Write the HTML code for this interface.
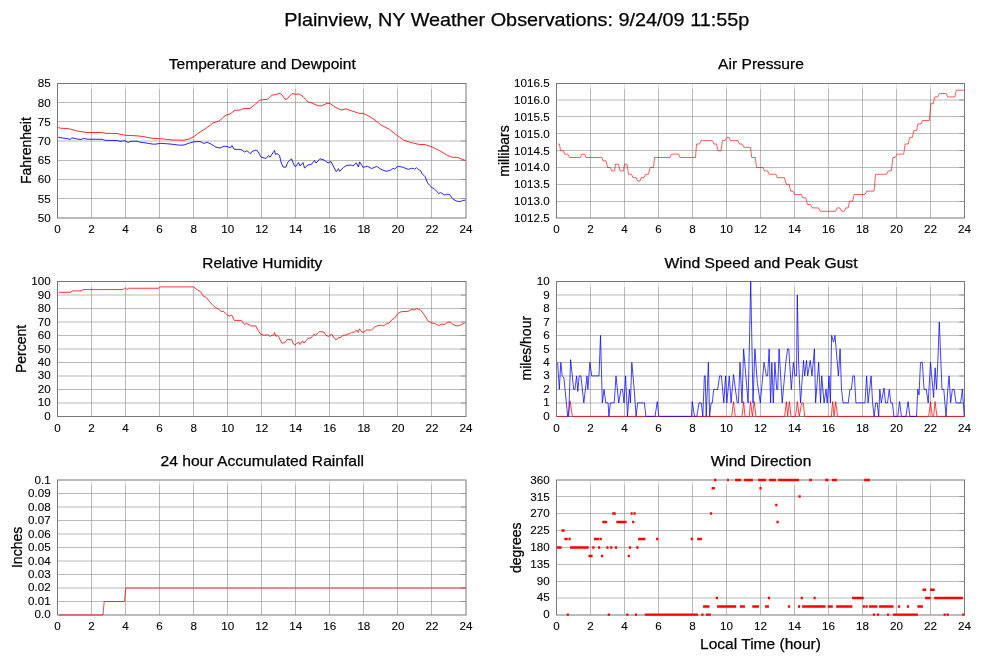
<!DOCTYPE html><html><head><meta charset="utf-8"><title>Plainview, NY Weather Observations</title>
<style>html,body{margin:0;padding:0;background:#fff;}svg{display:block;will-change:transform;}text{font-family:"Liberation Sans",Arial,Helvetica,sans-serif;fill:#000;stroke:#000;stroke-width:0.25px;}.tk{stroke-width:0.1px;}</style></head><body>
<svg width="999" height="659" viewBox="0 0 999 659">
<rect width="999" height="659" fill="#fff"/>
<text x="284.3" y="26" font-size="19" textLength="465" lengthAdjust="spacingAndGlyphs">Plainview, NY Weather Observations: 9/24/09 11:55p</text>
<path d="M91.5 88.5V218M125.5 88.5V218M159.5 88.5V218M193.5 88.5V218M227.5 88.5V218M261.5 88.5V218M295.5 88.5V218M329.5 88.5V218M363.5 88.5V218M397.5 88.5V218M431.5 88.5V218M57.5 102.5H466M57.5 121.5H466M57.5 141H466M57.5 160.5H466M57.5 179.5H466M57.5 198.5H466" stroke="#bababa" stroke-width="1" fill="none"/>
<path d="M91.5 83.5V88.5M125.5 83.5V88.5M159.5 83.5V88.5M193.5 83.5V88.5M227.5 83.5V88.5M261.5 83.5V88.5M295.5 83.5V88.5M329.5 83.5V88.5M363.5 83.5V88.5M397.5 83.5V88.5M431.5 83.5V88.5" stroke="#e4e4e4" stroke-width="1" fill="none"/>
<path d="M91 102h1v1h-1zM91 121h1v1h-1zM91 140.5h1v1h-1zM91 160h1v1h-1zM91 179h1v1h-1zM91 198h1v1h-1zM125 102h1v1h-1zM125 121h1v1h-1zM125 140.5h1v1h-1zM125 160h1v1h-1zM125 179h1v1h-1zM125 198h1v1h-1zM159 102h1v1h-1zM159 121h1v1h-1zM159 140.5h1v1h-1zM159 160h1v1h-1zM159 179h1v1h-1zM159 198h1v1h-1zM193 102h1v1h-1zM193 121h1v1h-1zM193 140.5h1v1h-1zM193 160h1v1h-1zM193 179h1v1h-1zM193 198h1v1h-1zM227 102h1v1h-1zM227 121h1v1h-1zM227 140.5h1v1h-1zM227 160h1v1h-1zM227 179h1v1h-1zM227 198h1v1h-1zM261 102h1v1h-1zM261 121h1v1h-1zM261 140.5h1v1h-1zM261 160h1v1h-1zM261 179h1v1h-1zM261 198h1v1h-1zM295 102h1v1h-1zM295 121h1v1h-1zM295 140.5h1v1h-1zM295 160h1v1h-1zM295 179h1v1h-1zM295 198h1v1h-1zM329 102h1v1h-1zM329 121h1v1h-1zM329 140.5h1v1h-1zM329 160h1v1h-1zM329 179h1v1h-1zM329 198h1v1h-1zM363 102h1v1h-1zM363 121h1v1h-1zM363 140.5h1v1h-1zM363 160h1v1h-1zM363 179h1v1h-1zM363 198h1v1h-1zM397 102h1v1h-1zM397 121h1v1h-1zM397 140.5h1v1h-1zM397 160h1v1h-1zM397 179h1v1h-1zM397 198h1v1h-1zM431 102h1v1h-1zM431 121h1v1h-1zM431 140.5h1v1h-1zM431 160h1v1h-1zM431 179h1v1h-1zM431 198h1v1h-1z" fill="#000" fill-opacity="0.14"/>
<rect x="57.5" y="83.5" width="408.5" height="134.5" stroke="#787878" stroke-width="1" fill="none"/>
<path d="M460.8 102.5H466M460.8 121.5H466M460.8 141H466M460.8 160.5H466M460.8 179.5H466M460.8 198.5H466" stroke="#969696" stroke-width="1" fill="none"/>
<text class="tk" x="50.8" y="87.3" font-size="11" text-anchor="end" textLength="12.97" lengthAdjust="spacingAndGlyphs">85</text>
<text class="tk" x="50.8" y="106.51" font-size="11" text-anchor="end" textLength="12.97" lengthAdjust="spacingAndGlyphs">80</text>
<text class="tk" x="50.8" y="125.73" font-size="11" text-anchor="end" textLength="12.97" lengthAdjust="spacingAndGlyphs">75</text>
<text class="tk" x="50.8" y="144.94" font-size="11" text-anchor="end" textLength="12.97" lengthAdjust="spacingAndGlyphs">70</text>
<text class="tk" x="50.8" y="164.16" font-size="11" text-anchor="end" textLength="12.97" lengthAdjust="spacingAndGlyphs">65</text>
<text class="tk" x="50.8" y="183.37" font-size="11" text-anchor="end" textLength="12.97" lengthAdjust="spacingAndGlyphs">60</text>
<text class="tk" x="50.8" y="202.59" font-size="11" text-anchor="end" textLength="12.97" lengthAdjust="spacingAndGlyphs">55</text>
<text class="tk" x="50.8" y="221.8" font-size="11" text-anchor="end" textLength="12.97" lengthAdjust="spacingAndGlyphs">50</text>
<text class="tk" x="57.5" y="233" font-size="11" text-anchor="middle" textLength="6.48" lengthAdjust="spacingAndGlyphs">0</text>
<text class="tk" x="91.54" y="233" font-size="11" text-anchor="middle" textLength="6.48" lengthAdjust="spacingAndGlyphs">2</text>
<text class="tk" x="125.58" y="233" font-size="11" text-anchor="middle" textLength="6.48" lengthAdjust="spacingAndGlyphs">4</text>
<text class="tk" x="159.62" y="233" font-size="11" text-anchor="middle" textLength="6.48" lengthAdjust="spacingAndGlyphs">6</text>
<text class="tk" x="193.67" y="233" font-size="11" text-anchor="middle" textLength="6.48" lengthAdjust="spacingAndGlyphs">8</text>
<text class="tk" x="227.71" y="233" font-size="11" text-anchor="middle" textLength="12.97" lengthAdjust="spacingAndGlyphs">10</text>
<text class="tk" x="261.75" y="233" font-size="11" text-anchor="middle" textLength="12.97" lengthAdjust="spacingAndGlyphs">12</text>
<text class="tk" x="295.79" y="233" font-size="11" text-anchor="middle" textLength="12.97" lengthAdjust="spacingAndGlyphs">14</text>
<text class="tk" x="329.83" y="233" font-size="11" text-anchor="middle" textLength="12.97" lengthAdjust="spacingAndGlyphs">16</text>
<text class="tk" x="363.88" y="233" font-size="11" text-anchor="middle" textLength="12.97" lengthAdjust="spacingAndGlyphs">18</text>
<text class="tk" x="397.92" y="233" font-size="11" text-anchor="middle" textLength="12.97" lengthAdjust="spacingAndGlyphs">20</text>
<text class="tk" x="431.96" y="233" font-size="11" text-anchor="middle" textLength="12.97" lengthAdjust="spacingAndGlyphs">22</text>
<text class="tk" x="466" y="233" font-size="11" text-anchor="middle" textLength="12.97" lengthAdjust="spacingAndGlyphs">24</text>
<text x="262.25" y="68.8" font-size="15" text-anchor="middle" textLength="187" lengthAdjust="spacingAndGlyphs">Temperature and Dewpoint</text>
<text transform="translate(31.2,150.6) rotate(-90)" x="0" y="0" font-size="14" text-anchor="middle">Fahrenheit</text>
<path d="M590.5 88.5V218M624.5 88.5V218M658.5 88.5V218M692.5 88.5V218M726.5 88.5V218M760.5 88.5V218M794.5 88.5V218M828.5 88.5V218M862.5 88.5V218M896.5 88.5V218M930.5 88.5V218M556.5 100H964.5M556.5 116.5H964.5M556.5 133.5H964.5M556.5 150.5H964.5M556.5 167.5H964.5M556.5 184.5H964.5M556.5 201.5H964.5" stroke="#bababa" stroke-width="1" fill="none"/>
<path d="M590.5 83.5V88.5M624.5 83.5V88.5M658.5 83.5V88.5M692.5 83.5V88.5M726.5 83.5V88.5M760.5 83.5V88.5M794.5 83.5V88.5M828.5 83.5V88.5M862.5 83.5V88.5M896.5 83.5V88.5M930.5 83.5V88.5" stroke="#e4e4e4" stroke-width="1" fill="none"/>
<path d="M590 99.5h1v1h-1zM590 116h1v1h-1zM590 133h1v1h-1zM590 150h1v1h-1zM590 167h1v1h-1zM590 184h1v1h-1zM590 201h1v1h-1zM624 99.5h1v1h-1zM624 116h1v1h-1zM624 133h1v1h-1zM624 150h1v1h-1zM624 167h1v1h-1zM624 184h1v1h-1zM624 201h1v1h-1zM658 99.5h1v1h-1zM658 116h1v1h-1zM658 133h1v1h-1zM658 150h1v1h-1zM658 167h1v1h-1zM658 184h1v1h-1zM658 201h1v1h-1zM692 99.5h1v1h-1zM692 116h1v1h-1zM692 133h1v1h-1zM692 150h1v1h-1zM692 167h1v1h-1zM692 184h1v1h-1zM692 201h1v1h-1zM726 99.5h1v1h-1zM726 116h1v1h-1zM726 133h1v1h-1zM726 150h1v1h-1zM726 167h1v1h-1zM726 184h1v1h-1zM726 201h1v1h-1zM760 99.5h1v1h-1zM760 116h1v1h-1zM760 133h1v1h-1zM760 150h1v1h-1zM760 167h1v1h-1zM760 184h1v1h-1zM760 201h1v1h-1zM794 99.5h1v1h-1zM794 116h1v1h-1zM794 133h1v1h-1zM794 150h1v1h-1zM794 167h1v1h-1zM794 184h1v1h-1zM794 201h1v1h-1zM828 99.5h1v1h-1zM828 116h1v1h-1zM828 133h1v1h-1zM828 150h1v1h-1zM828 167h1v1h-1zM828 184h1v1h-1zM828 201h1v1h-1zM862 99.5h1v1h-1zM862 116h1v1h-1zM862 133h1v1h-1zM862 150h1v1h-1zM862 167h1v1h-1zM862 184h1v1h-1zM862 201h1v1h-1zM896 99.5h1v1h-1zM896 116h1v1h-1zM896 133h1v1h-1zM896 150h1v1h-1zM896 167h1v1h-1zM896 184h1v1h-1zM896 201h1v1h-1zM930 99.5h1v1h-1zM930 116h1v1h-1zM930 133h1v1h-1zM930 150h1v1h-1zM930 167h1v1h-1zM930 184h1v1h-1zM930 201h1v1h-1z" fill="#000" fill-opacity="0.14"/>
<rect x="556.5" y="83.5" width="408" height="134.5" stroke="#787878" stroke-width="1" fill="none"/>
<path d="M959.3 100H964.5M959.3 116.5H964.5M959.3 133.5H964.5M959.3 150.5H964.5M959.3 167.5H964.5M959.3 184.5H964.5M959.3 201.5H964.5" stroke="#969696" stroke-width="1" fill="none"/>
<text class="tk" x="549.8" y="87.3" font-size="11" text-anchor="end" textLength="35.66" lengthAdjust="spacingAndGlyphs">1016.5</text>
<text class="tk" x="549.8" y="104.11" font-size="11" text-anchor="end" textLength="35.66" lengthAdjust="spacingAndGlyphs">1016.0</text>
<text class="tk" x="549.8" y="120.92" font-size="11" text-anchor="end" textLength="35.66" lengthAdjust="spacingAndGlyphs">1015.5</text>
<text class="tk" x="549.8" y="137.74" font-size="11" text-anchor="end" textLength="35.66" lengthAdjust="spacingAndGlyphs">1015.0</text>
<text class="tk" x="549.8" y="154.55" font-size="11" text-anchor="end" textLength="35.66" lengthAdjust="spacingAndGlyphs">1014.5</text>
<text class="tk" x="549.8" y="171.36" font-size="11" text-anchor="end" textLength="35.66" lengthAdjust="spacingAndGlyphs">1014.0</text>
<text class="tk" x="549.8" y="188.18" font-size="11" text-anchor="end" textLength="35.66" lengthAdjust="spacingAndGlyphs">1013.5</text>
<text class="tk" x="549.8" y="204.99" font-size="11" text-anchor="end" textLength="35.66" lengthAdjust="spacingAndGlyphs">1013.0</text>
<text class="tk" x="549.8" y="221.8" font-size="11" text-anchor="end" textLength="35.66" lengthAdjust="spacingAndGlyphs">1012.5</text>
<text class="tk" x="556.5" y="233" font-size="11" text-anchor="middle" textLength="6.48" lengthAdjust="spacingAndGlyphs">0</text>
<text class="tk" x="590.5" y="233" font-size="11" text-anchor="middle" textLength="6.48" lengthAdjust="spacingAndGlyphs">2</text>
<text class="tk" x="624.5" y="233" font-size="11" text-anchor="middle" textLength="6.48" lengthAdjust="spacingAndGlyphs">4</text>
<text class="tk" x="658.5" y="233" font-size="11" text-anchor="middle" textLength="6.48" lengthAdjust="spacingAndGlyphs">6</text>
<text class="tk" x="692.5" y="233" font-size="11" text-anchor="middle" textLength="6.48" lengthAdjust="spacingAndGlyphs">8</text>
<text class="tk" x="726.5" y="233" font-size="11" text-anchor="middle" textLength="12.97" lengthAdjust="spacingAndGlyphs">10</text>
<text class="tk" x="760.5" y="233" font-size="11" text-anchor="middle" textLength="12.97" lengthAdjust="spacingAndGlyphs">12</text>
<text class="tk" x="794.5" y="233" font-size="11" text-anchor="middle" textLength="12.97" lengthAdjust="spacingAndGlyphs">14</text>
<text class="tk" x="828.5" y="233" font-size="11" text-anchor="middle" textLength="12.97" lengthAdjust="spacingAndGlyphs">16</text>
<text class="tk" x="862.5" y="233" font-size="11" text-anchor="middle" textLength="12.97" lengthAdjust="spacingAndGlyphs">18</text>
<text class="tk" x="896.5" y="233" font-size="11" text-anchor="middle" textLength="12.97" lengthAdjust="spacingAndGlyphs">20</text>
<text class="tk" x="930.5" y="233" font-size="11" text-anchor="middle" textLength="12.97" lengthAdjust="spacingAndGlyphs">22</text>
<text class="tk" x="964.5" y="233" font-size="11" text-anchor="middle" textLength="12.97" lengthAdjust="spacingAndGlyphs">24</text>
<text x="761" y="68.8" font-size="15" text-anchor="middle" textLength="85.8" lengthAdjust="spacingAndGlyphs">Air Pressure</text>
<text transform="translate(509.4,151) rotate(-90)" x="0" y="0" font-size="14" text-anchor="middle">millibars</text>
<path d="M91.5 286.5V416.5M125.5 286.5V416.5M159.5 286.5V416.5M193.5 286.5V416.5M227.5 286.5V416.5M261.5 286.5V416.5M295.5 286.5V416.5M329.5 286.5V416.5M363.5 286.5V416.5M397.5 286.5V416.5M431.5 286.5V416.5M57.5 295H466M57.5 308.5H466M57.5 322H466M57.5 335.5H466M57.5 349H466M57.5 362.5H466M57.5 376H466M57.5 389.5H466M57.5 403H466" stroke="#bababa" stroke-width="1" fill="none"/>
<path d="M91.5 281.5V286.5M125.5 281.5V286.5M159.5 281.5V286.5M193.5 281.5V286.5M227.5 281.5V286.5M261.5 281.5V286.5M295.5 281.5V286.5M329.5 281.5V286.5M363.5 281.5V286.5M397.5 281.5V286.5M431.5 281.5V286.5" stroke="#e4e4e4" stroke-width="1" fill="none"/>
<path d="M91 294.5h1v1h-1zM91 308h1v1h-1zM91 321.5h1v1h-1zM91 335h1v1h-1zM91 348.5h1v1h-1zM91 362h1v1h-1zM91 375.5h1v1h-1zM91 389h1v1h-1zM91 402.5h1v1h-1zM125 294.5h1v1h-1zM125 308h1v1h-1zM125 321.5h1v1h-1zM125 335h1v1h-1zM125 348.5h1v1h-1zM125 362h1v1h-1zM125 375.5h1v1h-1zM125 389h1v1h-1zM125 402.5h1v1h-1zM159 294.5h1v1h-1zM159 308h1v1h-1zM159 321.5h1v1h-1zM159 335h1v1h-1zM159 348.5h1v1h-1zM159 362h1v1h-1zM159 375.5h1v1h-1zM159 389h1v1h-1zM159 402.5h1v1h-1zM193 294.5h1v1h-1zM193 308h1v1h-1zM193 321.5h1v1h-1zM193 335h1v1h-1zM193 348.5h1v1h-1zM193 362h1v1h-1zM193 375.5h1v1h-1zM193 389h1v1h-1zM193 402.5h1v1h-1zM227 294.5h1v1h-1zM227 308h1v1h-1zM227 321.5h1v1h-1zM227 335h1v1h-1zM227 348.5h1v1h-1zM227 362h1v1h-1zM227 375.5h1v1h-1zM227 389h1v1h-1zM227 402.5h1v1h-1zM261 294.5h1v1h-1zM261 308h1v1h-1zM261 321.5h1v1h-1zM261 335h1v1h-1zM261 348.5h1v1h-1zM261 362h1v1h-1zM261 375.5h1v1h-1zM261 389h1v1h-1zM261 402.5h1v1h-1zM295 294.5h1v1h-1zM295 308h1v1h-1zM295 321.5h1v1h-1zM295 335h1v1h-1zM295 348.5h1v1h-1zM295 362h1v1h-1zM295 375.5h1v1h-1zM295 389h1v1h-1zM295 402.5h1v1h-1zM329 294.5h1v1h-1zM329 308h1v1h-1zM329 321.5h1v1h-1zM329 335h1v1h-1zM329 348.5h1v1h-1zM329 362h1v1h-1zM329 375.5h1v1h-1zM329 389h1v1h-1zM329 402.5h1v1h-1zM363 294.5h1v1h-1zM363 308h1v1h-1zM363 321.5h1v1h-1zM363 335h1v1h-1zM363 348.5h1v1h-1zM363 362h1v1h-1zM363 375.5h1v1h-1zM363 389h1v1h-1zM363 402.5h1v1h-1zM397 294.5h1v1h-1zM397 308h1v1h-1zM397 321.5h1v1h-1zM397 335h1v1h-1zM397 348.5h1v1h-1zM397 362h1v1h-1zM397 375.5h1v1h-1zM397 389h1v1h-1zM397 402.5h1v1h-1zM431 294.5h1v1h-1zM431 308h1v1h-1zM431 321.5h1v1h-1zM431 335h1v1h-1zM431 348.5h1v1h-1zM431 362h1v1h-1zM431 375.5h1v1h-1zM431 389h1v1h-1zM431 402.5h1v1h-1z" fill="#000" fill-opacity="0.14"/>
<rect x="57.5" y="281.5" width="408.5" height="135" stroke="#787878" stroke-width="1" fill="none"/>
<path d="M460.8 295H466M460.8 308.5H466M460.8 322H466M460.8 335.5H466M460.8 349H466M460.8 362.5H466M460.8 376H466M460.8 389.5H466M460.8 403H466" stroke="#969696" stroke-width="1" fill="none"/>
<text class="tk" x="50.8" y="285.3" font-size="11" text-anchor="end" textLength="19.45" lengthAdjust="spacingAndGlyphs">100</text>
<text class="tk" x="50.8" y="298.75" font-size="11" text-anchor="end" textLength="12.97" lengthAdjust="spacingAndGlyphs">90</text>
<text class="tk" x="50.8" y="312.2" font-size="11" text-anchor="end" textLength="12.97" lengthAdjust="spacingAndGlyphs">80</text>
<text class="tk" x="50.8" y="325.65" font-size="11" text-anchor="end" textLength="12.97" lengthAdjust="spacingAndGlyphs">70</text>
<text class="tk" x="50.8" y="339.1" font-size="11" text-anchor="end" textLength="12.97" lengthAdjust="spacingAndGlyphs">60</text>
<text class="tk" x="50.8" y="352.55" font-size="11" text-anchor="end" textLength="12.97" lengthAdjust="spacingAndGlyphs">50</text>
<text class="tk" x="50.8" y="366" font-size="11" text-anchor="end" textLength="12.97" lengthAdjust="spacingAndGlyphs">40</text>
<text class="tk" x="50.8" y="379.45" font-size="11" text-anchor="end" textLength="12.97" lengthAdjust="spacingAndGlyphs">30</text>
<text class="tk" x="50.8" y="392.9" font-size="11" text-anchor="end" textLength="12.97" lengthAdjust="spacingAndGlyphs">20</text>
<text class="tk" x="50.8" y="406.35" font-size="11" text-anchor="end" textLength="12.97" lengthAdjust="spacingAndGlyphs">10</text>
<text class="tk" x="50.8" y="419.8" font-size="11" text-anchor="end" textLength="6.48" lengthAdjust="spacingAndGlyphs">0</text>
<text class="tk" x="57.5" y="431.5" font-size="11" text-anchor="middle" textLength="6.48" lengthAdjust="spacingAndGlyphs">0</text>
<text class="tk" x="91.54" y="431.5" font-size="11" text-anchor="middle" textLength="6.48" lengthAdjust="spacingAndGlyphs">2</text>
<text class="tk" x="125.58" y="431.5" font-size="11" text-anchor="middle" textLength="6.48" lengthAdjust="spacingAndGlyphs">4</text>
<text class="tk" x="159.62" y="431.5" font-size="11" text-anchor="middle" textLength="6.48" lengthAdjust="spacingAndGlyphs">6</text>
<text class="tk" x="193.67" y="431.5" font-size="11" text-anchor="middle" textLength="6.48" lengthAdjust="spacingAndGlyphs">8</text>
<text class="tk" x="227.71" y="431.5" font-size="11" text-anchor="middle" textLength="12.97" lengthAdjust="spacingAndGlyphs">10</text>
<text class="tk" x="261.75" y="431.5" font-size="11" text-anchor="middle" textLength="12.97" lengthAdjust="spacingAndGlyphs">12</text>
<text class="tk" x="295.79" y="431.5" font-size="11" text-anchor="middle" textLength="12.97" lengthAdjust="spacingAndGlyphs">14</text>
<text class="tk" x="329.83" y="431.5" font-size="11" text-anchor="middle" textLength="12.97" lengthAdjust="spacingAndGlyphs">16</text>
<text class="tk" x="363.88" y="431.5" font-size="11" text-anchor="middle" textLength="12.97" lengthAdjust="spacingAndGlyphs">18</text>
<text class="tk" x="397.92" y="431.5" font-size="11" text-anchor="middle" textLength="12.97" lengthAdjust="spacingAndGlyphs">20</text>
<text class="tk" x="431.96" y="431.5" font-size="11" text-anchor="middle" textLength="12.97" lengthAdjust="spacingAndGlyphs">22</text>
<text class="tk" x="466" y="431.5" font-size="11" text-anchor="middle" textLength="12.97" lengthAdjust="spacingAndGlyphs">24</text>
<text x="262.25" y="267.9" font-size="15" text-anchor="middle" textLength="120" lengthAdjust="spacingAndGlyphs">Relative Humidity</text>
<text transform="translate(26.4,348.9) rotate(-90)" x="0" y="0" font-size="14" text-anchor="middle">Percent</text>
<path d="M590.5 286.5V416.5M624.5 286.5V416.5M658.5 286.5V416.5M692.5 286.5V416.5M726.5 286.5V416.5M760.5 286.5V416.5M794.5 286.5V416.5M828.5 286.5V416.5M862.5 286.5V416.5M896.5 286.5V416.5M930.5 286.5V416.5M556.5 295H964.5M556.5 308.5H964.5M556.5 322H964.5M556.5 335.5H964.5M556.5 349H964.5M556.5 362.5H964.5M556.5 376H964.5M556.5 389.5H964.5M556.5 403H964.5" stroke="#bababa" stroke-width="1" fill="none"/>
<path d="M590.5 281.5V286.5M624.5 281.5V286.5M658.5 281.5V286.5M692.5 281.5V286.5M726.5 281.5V286.5M760.5 281.5V286.5M794.5 281.5V286.5M828.5 281.5V286.5M862.5 281.5V286.5M896.5 281.5V286.5M930.5 281.5V286.5" stroke="#e4e4e4" stroke-width="1" fill="none"/>
<path d="M590 294.5h1v1h-1zM590 308h1v1h-1zM590 321.5h1v1h-1zM590 335h1v1h-1zM590 348.5h1v1h-1zM590 362h1v1h-1zM590 375.5h1v1h-1zM590 389h1v1h-1zM590 402.5h1v1h-1zM624 294.5h1v1h-1zM624 308h1v1h-1zM624 321.5h1v1h-1zM624 335h1v1h-1zM624 348.5h1v1h-1zM624 362h1v1h-1zM624 375.5h1v1h-1zM624 389h1v1h-1zM624 402.5h1v1h-1zM658 294.5h1v1h-1zM658 308h1v1h-1zM658 321.5h1v1h-1zM658 335h1v1h-1zM658 348.5h1v1h-1zM658 362h1v1h-1zM658 375.5h1v1h-1zM658 389h1v1h-1zM658 402.5h1v1h-1zM692 294.5h1v1h-1zM692 308h1v1h-1zM692 321.5h1v1h-1zM692 335h1v1h-1zM692 348.5h1v1h-1zM692 362h1v1h-1zM692 375.5h1v1h-1zM692 389h1v1h-1zM692 402.5h1v1h-1zM726 294.5h1v1h-1zM726 308h1v1h-1zM726 321.5h1v1h-1zM726 335h1v1h-1zM726 348.5h1v1h-1zM726 362h1v1h-1zM726 375.5h1v1h-1zM726 389h1v1h-1zM726 402.5h1v1h-1zM760 294.5h1v1h-1zM760 308h1v1h-1zM760 321.5h1v1h-1zM760 335h1v1h-1zM760 348.5h1v1h-1zM760 362h1v1h-1zM760 375.5h1v1h-1zM760 389h1v1h-1zM760 402.5h1v1h-1zM794 294.5h1v1h-1zM794 308h1v1h-1zM794 321.5h1v1h-1zM794 335h1v1h-1zM794 348.5h1v1h-1zM794 362h1v1h-1zM794 375.5h1v1h-1zM794 389h1v1h-1zM794 402.5h1v1h-1zM828 294.5h1v1h-1zM828 308h1v1h-1zM828 321.5h1v1h-1zM828 335h1v1h-1zM828 348.5h1v1h-1zM828 362h1v1h-1zM828 375.5h1v1h-1zM828 389h1v1h-1zM828 402.5h1v1h-1zM862 294.5h1v1h-1zM862 308h1v1h-1zM862 321.5h1v1h-1zM862 335h1v1h-1zM862 348.5h1v1h-1zM862 362h1v1h-1zM862 375.5h1v1h-1zM862 389h1v1h-1zM862 402.5h1v1h-1zM896 294.5h1v1h-1zM896 308h1v1h-1zM896 321.5h1v1h-1zM896 335h1v1h-1zM896 348.5h1v1h-1zM896 362h1v1h-1zM896 375.5h1v1h-1zM896 389h1v1h-1zM896 402.5h1v1h-1zM930 294.5h1v1h-1zM930 308h1v1h-1zM930 321.5h1v1h-1zM930 335h1v1h-1zM930 348.5h1v1h-1zM930 362h1v1h-1zM930 375.5h1v1h-1zM930 389h1v1h-1zM930 402.5h1v1h-1z" fill="#000" fill-opacity="0.14"/>
<rect x="556.5" y="281.5" width="408" height="135" stroke="#787878" stroke-width="1" fill="none"/>
<path d="M959.3 295H964.5M959.3 308.5H964.5M959.3 322H964.5M959.3 335.5H964.5M959.3 349H964.5M959.3 362.5H964.5M959.3 376H964.5M959.3 389.5H964.5M959.3 403H964.5" stroke="#969696" stroke-width="1" fill="none"/>
<text class="tk" x="549.8" y="285.3" font-size="11" text-anchor="end" textLength="12.97" lengthAdjust="spacingAndGlyphs">10</text>
<text class="tk" x="549.8" y="298.75" font-size="11" text-anchor="end" textLength="6.48" lengthAdjust="spacingAndGlyphs">9</text>
<text class="tk" x="549.8" y="312.2" font-size="11" text-anchor="end" textLength="6.48" lengthAdjust="spacingAndGlyphs">8</text>
<text class="tk" x="549.8" y="325.65" font-size="11" text-anchor="end" textLength="6.48" lengthAdjust="spacingAndGlyphs">7</text>
<text class="tk" x="549.8" y="339.1" font-size="11" text-anchor="end" textLength="6.48" lengthAdjust="spacingAndGlyphs">6</text>
<text class="tk" x="549.8" y="352.55" font-size="11" text-anchor="end" textLength="6.48" lengthAdjust="spacingAndGlyphs">5</text>
<text class="tk" x="549.8" y="366" font-size="11" text-anchor="end" textLength="6.48" lengthAdjust="spacingAndGlyphs">4</text>
<text class="tk" x="549.8" y="379.45" font-size="11" text-anchor="end" textLength="6.48" lengthAdjust="spacingAndGlyphs">3</text>
<text class="tk" x="549.8" y="392.9" font-size="11" text-anchor="end" textLength="6.48" lengthAdjust="spacingAndGlyphs">2</text>
<text class="tk" x="549.8" y="406.35" font-size="11" text-anchor="end" textLength="6.48" lengthAdjust="spacingAndGlyphs">1</text>
<text class="tk" x="549.8" y="419.8" font-size="11" text-anchor="end" textLength="6.48" lengthAdjust="spacingAndGlyphs">0</text>
<text class="tk" x="556.5" y="431.5" font-size="11" text-anchor="middle" textLength="6.48" lengthAdjust="spacingAndGlyphs">0</text>
<text class="tk" x="590.5" y="431.5" font-size="11" text-anchor="middle" textLength="6.48" lengthAdjust="spacingAndGlyphs">2</text>
<text class="tk" x="624.5" y="431.5" font-size="11" text-anchor="middle" textLength="6.48" lengthAdjust="spacingAndGlyphs">4</text>
<text class="tk" x="658.5" y="431.5" font-size="11" text-anchor="middle" textLength="6.48" lengthAdjust="spacingAndGlyphs">6</text>
<text class="tk" x="692.5" y="431.5" font-size="11" text-anchor="middle" textLength="6.48" lengthAdjust="spacingAndGlyphs">8</text>
<text class="tk" x="726.5" y="431.5" font-size="11" text-anchor="middle" textLength="12.97" lengthAdjust="spacingAndGlyphs">10</text>
<text class="tk" x="760.5" y="431.5" font-size="11" text-anchor="middle" textLength="12.97" lengthAdjust="spacingAndGlyphs">12</text>
<text class="tk" x="794.5" y="431.5" font-size="11" text-anchor="middle" textLength="12.97" lengthAdjust="spacingAndGlyphs">14</text>
<text class="tk" x="828.5" y="431.5" font-size="11" text-anchor="middle" textLength="12.97" lengthAdjust="spacingAndGlyphs">16</text>
<text class="tk" x="862.5" y="431.5" font-size="11" text-anchor="middle" textLength="12.97" lengthAdjust="spacingAndGlyphs">18</text>
<text class="tk" x="896.5" y="431.5" font-size="11" text-anchor="middle" textLength="12.97" lengthAdjust="spacingAndGlyphs">20</text>
<text class="tk" x="930.5" y="431.5" font-size="11" text-anchor="middle" textLength="12.97" lengthAdjust="spacingAndGlyphs">22</text>
<text class="tk" x="964.5" y="431.5" font-size="11" text-anchor="middle" textLength="12.97" lengthAdjust="spacingAndGlyphs">24</text>
<text x="761" y="267.9" font-size="15" text-anchor="middle" textLength="193" lengthAdjust="spacingAndGlyphs">Wind Speed and Peak Gust</text>
<text transform="translate(531.2,348.2) rotate(-90)" x="0" y="0" font-size="14" text-anchor="middle">miles/hour</text>
<path d="M91.5 485V615M125.5 485V615M159.5 485V615M193.5 485V615M227.5 485V615M261.5 485V615M295.5 485V615M329.5 485V615M363.5 485V615M397.5 485V615M431.5 485V615M57.5 493.5H466M57.5 507H466M57.5 520.5H466M57.5 534H466M57.5 547.5H466M57.5 561H466M57.5 574.5H466M57.5 588H466M57.5 601.5H466" stroke="#bababa" stroke-width="1" fill="none"/>
<path d="M91.5 480V485M125.5 480V485M159.5 480V485M193.5 480V485M227.5 480V485M261.5 480V485M295.5 480V485M329.5 480V485M363.5 480V485M397.5 480V485M431.5 480V485" stroke="#e4e4e4" stroke-width="1" fill="none"/>
<path d="M91 493h1v1h-1zM91 506.5h1v1h-1zM91 520h1v1h-1zM91 533.5h1v1h-1zM91 547h1v1h-1zM91 560.5h1v1h-1zM91 574h1v1h-1zM91 587.5h1v1h-1zM91 601h1v1h-1zM125 493h1v1h-1zM125 506.5h1v1h-1zM125 520h1v1h-1zM125 533.5h1v1h-1zM125 547h1v1h-1zM125 560.5h1v1h-1zM125 574h1v1h-1zM125 587.5h1v1h-1zM125 601h1v1h-1zM159 493h1v1h-1zM159 506.5h1v1h-1zM159 520h1v1h-1zM159 533.5h1v1h-1zM159 547h1v1h-1zM159 560.5h1v1h-1zM159 574h1v1h-1zM159 587.5h1v1h-1zM159 601h1v1h-1zM193 493h1v1h-1zM193 506.5h1v1h-1zM193 520h1v1h-1zM193 533.5h1v1h-1zM193 547h1v1h-1zM193 560.5h1v1h-1zM193 574h1v1h-1zM193 587.5h1v1h-1zM193 601h1v1h-1zM227 493h1v1h-1zM227 506.5h1v1h-1zM227 520h1v1h-1zM227 533.5h1v1h-1zM227 547h1v1h-1zM227 560.5h1v1h-1zM227 574h1v1h-1zM227 587.5h1v1h-1zM227 601h1v1h-1zM261 493h1v1h-1zM261 506.5h1v1h-1zM261 520h1v1h-1zM261 533.5h1v1h-1zM261 547h1v1h-1zM261 560.5h1v1h-1zM261 574h1v1h-1zM261 587.5h1v1h-1zM261 601h1v1h-1zM295 493h1v1h-1zM295 506.5h1v1h-1zM295 520h1v1h-1zM295 533.5h1v1h-1zM295 547h1v1h-1zM295 560.5h1v1h-1zM295 574h1v1h-1zM295 587.5h1v1h-1zM295 601h1v1h-1zM329 493h1v1h-1zM329 506.5h1v1h-1zM329 520h1v1h-1zM329 533.5h1v1h-1zM329 547h1v1h-1zM329 560.5h1v1h-1zM329 574h1v1h-1zM329 587.5h1v1h-1zM329 601h1v1h-1zM363 493h1v1h-1zM363 506.5h1v1h-1zM363 520h1v1h-1zM363 533.5h1v1h-1zM363 547h1v1h-1zM363 560.5h1v1h-1zM363 574h1v1h-1zM363 587.5h1v1h-1zM363 601h1v1h-1zM397 493h1v1h-1zM397 506.5h1v1h-1zM397 520h1v1h-1zM397 533.5h1v1h-1zM397 547h1v1h-1zM397 560.5h1v1h-1zM397 574h1v1h-1zM397 587.5h1v1h-1zM397 601h1v1h-1zM431 493h1v1h-1zM431 506.5h1v1h-1zM431 520h1v1h-1zM431 533.5h1v1h-1zM431 547h1v1h-1zM431 560.5h1v1h-1zM431 574h1v1h-1zM431 587.5h1v1h-1zM431 601h1v1h-1z" fill="#000" fill-opacity="0.14"/>
<rect x="57.5" y="480" width="408.5" height="135" stroke="#787878" stroke-width="1" fill="none"/>
<path d="M460.8 493.5H466M460.8 507H466M460.8 520.5H466M460.8 534H466M460.8 547.5H466M460.8 561H466M460.8 574.5H466M460.8 588H466M460.8 601.5H466" stroke="#969696" stroke-width="1" fill="none"/>
<text class="tk" x="50.8" y="483.8" font-size="11" text-anchor="end" textLength="16.21" lengthAdjust="spacingAndGlyphs">0.1</text>
<text class="tk" x="50.8" y="497.25" font-size="11" text-anchor="end" textLength="22.69" lengthAdjust="spacingAndGlyphs">0.09</text>
<text class="tk" x="50.8" y="510.7" font-size="11" text-anchor="end" textLength="22.69" lengthAdjust="spacingAndGlyphs">0.08</text>
<text class="tk" x="50.8" y="524.15" font-size="11" text-anchor="end" textLength="22.69" lengthAdjust="spacingAndGlyphs">0.07</text>
<text class="tk" x="50.8" y="537.6" font-size="11" text-anchor="end" textLength="22.69" lengthAdjust="spacingAndGlyphs">0.06</text>
<text class="tk" x="50.8" y="551.05" font-size="11" text-anchor="end" textLength="22.69" lengthAdjust="spacingAndGlyphs">0.05</text>
<text class="tk" x="50.8" y="564.5" font-size="11" text-anchor="end" textLength="22.69" lengthAdjust="spacingAndGlyphs">0.04</text>
<text class="tk" x="50.8" y="577.95" font-size="11" text-anchor="end" textLength="22.69" lengthAdjust="spacingAndGlyphs">0.03</text>
<text class="tk" x="50.8" y="591.4" font-size="11" text-anchor="end" textLength="22.69" lengthAdjust="spacingAndGlyphs">0.02</text>
<text class="tk" x="50.8" y="604.85" font-size="11" text-anchor="end" textLength="22.69" lengthAdjust="spacingAndGlyphs">0.01</text>
<text class="tk" x="50.8" y="618.3" font-size="11" text-anchor="end" textLength="16.21" lengthAdjust="spacingAndGlyphs">0.0</text>
<text class="tk" x="57.5" y="630" font-size="11" text-anchor="middle" textLength="6.48" lengthAdjust="spacingAndGlyphs">0</text>
<text class="tk" x="91.54" y="630" font-size="11" text-anchor="middle" textLength="6.48" lengthAdjust="spacingAndGlyphs">2</text>
<text class="tk" x="125.58" y="630" font-size="11" text-anchor="middle" textLength="6.48" lengthAdjust="spacingAndGlyphs">4</text>
<text class="tk" x="159.62" y="630" font-size="11" text-anchor="middle" textLength="6.48" lengthAdjust="spacingAndGlyphs">6</text>
<text class="tk" x="193.67" y="630" font-size="11" text-anchor="middle" textLength="6.48" lengthAdjust="spacingAndGlyphs">8</text>
<text class="tk" x="227.71" y="630" font-size="11" text-anchor="middle" textLength="12.97" lengthAdjust="spacingAndGlyphs">10</text>
<text class="tk" x="261.75" y="630" font-size="11" text-anchor="middle" textLength="12.97" lengthAdjust="spacingAndGlyphs">12</text>
<text class="tk" x="295.79" y="630" font-size="11" text-anchor="middle" textLength="12.97" lengthAdjust="spacingAndGlyphs">14</text>
<text class="tk" x="329.83" y="630" font-size="11" text-anchor="middle" textLength="12.97" lengthAdjust="spacingAndGlyphs">16</text>
<text class="tk" x="363.88" y="630" font-size="11" text-anchor="middle" textLength="12.97" lengthAdjust="spacingAndGlyphs">18</text>
<text class="tk" x="397.92" y="630" font-size="11" text-anchor="middle" textLength="12.97" lengthAdjust="spacingAndGlyphs">20</text>
<text class="tk" x="431.96" y="630" font-size="11" text-anchor="middle" textLength="12.97" lengthAdjust="spacingAndGlyphs">22</text>
<text class="tk" x="466" y="630" font-size="11" text-anchor="middle" textLength="12.97" lengthAdjust="spacingAndGlyphs">24</text>
<text x="262.25" y="465.9" font-size="15" text-anchor="middle" textLength="203.6" lengthAdjust="spacingAndGlyphs">24 hour Accumulated Rainfall</text>
<text transform="translate(22,547.4) rotate(-90)" x="0" y="0" font-size="14" text-anchor="middle">Inches</text>
<path d="M590.5 485V615M624.5 485V615M658.5 485V615M692.5 485V615M726.5 485V615M760.5 485V615M794.5 485V615M828.5 485V615M862.5 485V615M896.5 485V615M930.5 485V615M556.5 496.5H964.5M556.5 513.5H964.5M556.5 530.5H964.5M556.5 547.5H964.5M556.5 564.5H964.5M556.5 581.5H964.5M556.5 598H964.5" stroke="#bababa" stroke-width="1" fill="none"/>
<path d="M590.5 480V485M624.5 480V485M658.5 480V485M692.5 480V485M726.5 480V485M760.5 480V485M794.5 480V485M828.5 480V485M862.5 480V485M896.5 480V485M930.5 480V485" stroke="#e4e4e4" stroke-width="1" fill="none"/>
<path d="M590 496h1v1h-1zM590 513h1v1h-1zM590 530h1v1h-1zM590 547h1v1h-1zM590 564h1v1h-1zM590 581h1v1h-1zM590 597.5h1v1h-1zM624 496h1v1h-1zM624 513h1v1h-1zM624 530h1v1h-1zM624 547h1v1h-1zM624 564h1v1h-1zM624 581h1v1h-1zM624 597.5h1v1h-1zM658 496h1v1h-1zM658 513h1v1h-1zM658 530h1v1h-1zM658 547h1v1h-1zM658 564h1v1h-1zM658 581h1v1h-1zM658 597.5h1v1h-1zM692 496h1v1h-1zM692 513h1v1h-1zM692 530h1v1h-1zM692 547h1v1h-1zM692 564h1v1h-1zM692 581h1v1h-1zM692 597.5h1v1h-1zM726 496h1v1h-1zM726 513h1v1h-1zM726 530h1v1h-1zM726 547h1v1h-1zM726 564h1v1h-1zM726 581h1v1h-1zM726 597.5h1v1h-1zM760 496h1v1h-1zM760 513h1v1h-1zM760 530h1v1h-1zM760 547h1v1h-1zM760 564h1v1h-1zM760 581h1v1h-1zM760 597.5h1v1h-1zM794 496h1v1h-1zM794 513h1v1h-1zM794 530h1v1h-1zM794 547h1v1h-1zM794 564h1v1h-1zM794 581h1v1h-1zM794 597.5h1v1h-1zM828 496h1v1h-1zM828 513h1v1h-1zM828 530h1v1h-1zM828 547h1v1h-1zM828 564h1v1h-1zM828 581h1v1h-1zM828 597.5h1v1h-1zM862 496h1v1h-1zM862 513h1v1h-1zM862 530h1v1h-1zM862 547h1v1h-1zM862 564h1v1h-1zM862 581h1v1h-1zM862 597.5h1v1h-1zM896 496h1v1h-1zM896 513h1v1h-1zM896 530h1v1h-1zM896 547h1v1h-1zM896 564h1v1h-1zM896 581h1v1h-1zM896 597.5h1v1h-1zM930 496h1v1h-1zM930 513h1v1h-1zM930 530h1v1h-1zM930 547h1v1h-1zM930 564h1v1h-1zM930 581h1v1h-1zM930 597.5h1v1h-1z" fill="#000" fill-opacity="0.14"/>
<rect x="556.5" y="480" width="408" height="135" stroke="#787878" stroke-width="1" fill="none"/>
<path d="M959.3 496.5H964.5M959.3 513.5H964.5M959.3 530.5H964.5M959.3 547.5H964.5M959.3 564.5H964.5M959.3 581.5H964.5M959.3 598H964.5" stroke="#969696" stroke-width="1" fill="none"/>
<text class="tk" x="549.8" y="483.8" font-size="11" text-anchor="end" textLength="19.45" lengthAdjust="spacingAndGlyphs">360</text>
<text class="tk" x="549.8" y="500.61" font-size="11" text-anchor="end" textLength="19.45" lengthAdjust="spacingAndGlyphs">315</text>
<text class="tk" x="549.8" y="517.42" font-size="11" text-anchor="end" textLength="19.45" lengthAdjust="spacingAndGlyphs">270</text>
<text class="tk" x="549.8" y="534.24" font-size="11" text-anchor="end" textLength="19.45" lengthAdjust="spacingAndGlyphs">225</text>
<text class="tk" x="549.8" y="551.05" font-size="11" text-anchor="end" textLength="19.45" lengthAdjust="spacingAndGlyphs">180</text>
<text class="tk" x="549.8" y="567.86" font-size="11" text-anchor="end" textLength="19.45" lengthAdjust="spacingAndGlyphs">135</text>
<text class="tk" x="549.8" y="584.67" font-size="11" text-anchor="end" textLength="12.97" lengthAdjust="spacingAndGlyphs">90</text>
<text class="tk" x="549.8" y="601.49" font-size="11" text-anchor="end" textLength="12.97" lengthAdjust="spacingAndGlyphs">45</text>
<text class="tk" x="549.8" y="618.3" font-size="11" text-anchor="end" textLength="6.48" lengthAdjust="spacingAndGlyphs">0</text>
<text class="tk" x="556.5" y="630" font-size="11" text-anchor="middle" textLength="6.48" lengthAdjust="spacingAndGlyphs">0</text>
<text class="tk" x="590.5" y="630" font-size="11" text-anchor="middle" textLength="6.48" lengthAdjust="spacingAndGlyphs">2</text>
<text class="tk" x="624.5" y="630" font-size="11" text-anchor="middle" textLength="6.48" lengthAdjust="spacingAndGlyphs">4</text>
<text class="tk" x="658.5" y="630" font-size="11" text-anchor="middle" textLength="6.48" lengthAdjust="spacingAndGlyphs">6</text>
<text class="tk" x="692.5" y="630" font-size="11" text-anchor="middle" textLength="6.48" lengthAdjust="spacingAndGlyphs">8</text>
<text class="tk" x="726.5" y="630" font-size="11" text-anchor="middle" textLength="12.97" lengthAdjust="spacingAndGlyphs">10</text>
<text class="tk" x="760.5" y="630" font-size="11" text-anchor="middle" textLength="12.97" lengthAdjust="spacingAndGlyphs">12</text>
<text class="tk" x="794.5" y="630" font-size="11" text-anchor="middle" textLength="12.97" lengthAdjust="spacingAndGlyphs">14</text>
<text class="tk" x="828.5" y="630" font-size="11" text-anchor="middle" textLength="12.97" lengthAdjust="spacingAndGlyphs">16</text>
<text class="tk" x="862.5" y="630" font-size="11" text-anchor="middle" textLength="12.97" lengthAdjust="spacingAndGlyphs">18</text>
<text class="tk" x="896.5" y="630" font-size="11" text-anchor="middle" textLength="12.97" lengthAdjust="spacingAndGlyphs">20</text>
<text class="tk" x="930.5" y="630" font-size="11" text-anchor="middle" textLength="12.97" lengthAdjust="spacingAndGlyphs">22</text>
<text class="tk" x="964.5" y="630" font-size="11" text-anchor="middle" textLength="12.97" lengthAdjust="spacingAndGlyphs">24</text>
<text x="761" y="465.6" font-size="15" text-anchor="middle" textLength="100.5" lengthAdjust="spacingAndGlyphs">Wind Direction</text>
<text transform="translate(521.4,547.8) rotate(-90)" x="0" y="0" font-size="14" text-anchor="middle">degrees</text>
<text x="760.5" y="648.5" font-size="15" text-anchor="middle" textLength="120.8" lengthAdjust="spacingAndGlyphs">Local Time (hour)</text>
<polyline points="58.5,137.3 59,137.5 63,138 67,138.5 70,139.5 72,137.8 77,139 81,139.5 83.5,138.3 87,139.2 102,139.3 105,140.3 117,140.5 120,141.3 125,140.7 128,142.5 131,141.3 137,141.3 140,142.2 145,142.8 152,144 155,144.2 161,143.3 170,144 180,145.2 184,145 188,143.5 194,141.8 200,141.5 204,143.5 207,142.2 211,144 216,147.2 220,148 224,146.2 227,146.5 230.5,147.8 232,145.5 234,149.2 240,149.5 242,150 244.5,152 247,150.7 250.5,153.8 252,151.5 256,150 258,151.5 261,157 266,158.5 268.5,155.5 270,157.2 274.5,150.5 275.5,154.5 277,153.5 279.5,155.5 281,162 283,167 286,167.2 287.5,162.5 291.5,158.8 294.5,166 296,166.5 298.5,162.5 300,166 303,162.5 304.5,168 308,165 311.5,164.3 314.5,160.5 316,163 320,158.8 324,160 328,163 331,161.5 336,171.5 336.7,171.4 338.4,168.6 339.7,171.4 343.5,167.4 346.9,165.3 351.2,165.1 353.7,165.7 356.3,162.8 358.4,167 359.7,161.9 363.1,167.4 367.3,166.2 371.6,168.6 376.7,166.3 381,169.4 386.1,171.3 390.3,170.4 392.9,168.3 394.6,169.1 398,166.3 402.2,167 408.2,169.4 411.6,168.3 413.8,168.5 414.6,169.3 416.4,167.6 418.3,169.5 420.6,170.6 422.1,173.7 425.2,176.8 427.5,182.8 429.7,185.4 432,187.7 434.3,188.8 437.3,191.9 438.8,193.8 440.3,192.5 444.9,195.1 446.4,194.3 449.5,194.5 452.5,198.7 456.3,201 460.1,201.6 462.4,200.6 465,200.2" fill="none" stroke="#0000ff" stroke-opacity="0.85" stroke-width="1.0" stroke-linejoin="round" stroke-linecap="round"/>
<polyline points="58.5,127.2 59,127.5 60,128.2 67,128.5 72,129.5 77,131 82,131.8 87,132.5 91,132.5 102,132.5 106,133.3 117,133.5 121,134.5 126,135.3 137,135.8 143,136.5 152,138.3 157,138.5 163,139 173,140 184,140.2 189,139 194,136.5 200,132 205,129 213,123 219,121 226,115 230,114 235,110.3 240,110 244,108.5 250,108.5 255,104.5 259,100.5 264,99.5 267.5,99.3 271.5,95.3 275,94.7 280,93.3 282,95 285,99.3 287,99 292,93.5 296,94.3 299,94 303,96.5 308,102 312,103 318,105.8 322,105.8 327,103.2 330,103.5 335,107 341,110 346,108.8 350,110.3 359,113.3 363,113.3 369,116.2 375,120 381,125 385,127.1 389.3,129.3 396.9,135.2 403.7,140.1 410.5,142.4 419,144.4 425,144.6 431,146.5 439.5,150.5 446.3,154.8 452.2,157.3 457.3,157.3 465,160.3" fill="none" stroke="#ff0000" stroke-opacity="0.82" stroke-width="1.0" stroke-linejoin="round" stroke-linecap="round"/>
<polyline points="558.5,144.03 559.5,144.03 560.5,150.75 563.5,150.75 564.5,154.11 567.5,154.11 569.5,157.47 580.5,157.47 581.5,154.11 584.5,154.11 586,157.47 602,157.47 603,160.84 606,160.84 607.5,167.56 610.5,167.56 611.5,170.93 614.5,170.93 615.5,164.2 618.5,164.2 620,170.93 623.5,170.93 624.5,164.2 627,164.2 628.5,174.29 631.5,174.29 633,177.65 636.3,177.65 637.5,181.01 640,181.01 641.2,177.65 644,177.65 645.5,174.29 648.5,174.29 650,167.56 653.5,167.56 654.5,157.47 670,157.47 671.5,154.11 678.5,154.11 680,157.47 695.5,157.47 696.5,144.03 699.5,144.03 701,140.66 712.5,140.66 714,144.03 716.5,144.03 718,150.75 721,150.75 722.5,140.66 725,140.66 727,137.3 729,137.3 730.5,140.66 738,140.66 739.5,144.03 742,144.03 744,147.39 750.5,147.39 751.7,157.47 752.9,157.47 755.3,157.47 756.5,167.56 763.2,167.56 764.4,170.93 767.5,170.93 769.3,174.29 775.9,174.29 777.2,177.65 784.4,177.65 786.3,184.38 789.3,184.38 790.5,191.1 792.9,191.1 794.8,194.46 801.4,194.46 802.6,197.82 805.7,197.82 807.5,204.55 810.5,204.55 812.4,207.91 818.4,207.91 820.2,211.27 835.4,211.27 837.2,207.91 839.7,207.91 841.8,211.27 844.1,211.27 845.9,207.91 848.2,207.91 849.6,201.19 852.7,201.19 854.1,194.46 865,194.46 866.8,191.1 874.1,191.1 875.5,174.29 886.4,174.29 888.4,170.93 891.4,170.93 892.9,157.47 895.1,157.47 897.2,154.11 903.7,154.11 905.2,144.03 908.1,144.03 909.8,137.3 912.4,137.3 913.8,130.57 916.7,130.57 917.9,123.85 921,123.85 922.5,120.49 929.4,120.49 930.8,103.67 933.3,103.67 934.7,96.95 937.6,96.95 939.5,93.59 946.2,93.59 947.7,96.95 954.9,96.95 956.3,90.22 963.5,90.22" fill="none" stroke="#ff0000" stroke-opacity="0.64" stroke-width="1.0" stroke-linejoin="round" stroke-linecap="round"/>
<polyline points="59,292.3 70.6,292.3 72,290.95 81,290.95 83,289.6 123,289.6 124.3,288.25 125.5,288.25 127,289.6 128.5,288.25 158.5,288.25 160,286.9 193.5,286.9 197.8,290.1 200.4,291.5 203.1,295.9 206.3,297.5 209.4,301.3 212.6,305 215.8,307.8 217.9,308.7 221.1,311.3 223.8,311.6 227.5,315.1 229.6,316.1 231.8,315.1 234.4,320.4 241.3,320.4 244.5,324.4 246.6,323.4 250.9,325.9 255.7,325.9 260.5,334.2 264.7,335.3 267.9,334.7 270,336.5 272.1,335 273.7,335.3 274.5,332.6 275.9,336.3 277.5,335.5 279,337.4 280,339.5 282,343.2 285,342.5 287.5,339.2 290,340 291.5,339.2 293.5,344 295,345 298.5,342 300,344.5 302.5,340.8 304,343.2 308,338.3 311,338 314,334.2 315.5,335.2 319.5,331.5 324,332.2 326,335.2 328.5,336.5 331.5,334.2 335.5,339.5 337.5,339 339,337.2 340,338 343,335.2 346,335 348,334 350,333.8 351.5,332.2 354.5,332.2 356.5,330 358,332.5 359.5,328.8 362,332.2 364,332.2 366.5,330 371.5,330 375,326.8 377.9,325.6 381.7,325.2 383.6,325.9 385.5,324.3 389.3,322.9 392.1,319.5 394.5,318.3 398.8,312.6 402.1,311.6 408.3,311.3 411.1,309.7 414.9,309.7 416.8,308.5 420.6,310.2 424.4,315 428.2,321.1 432,323 434.9,323.5 438.7,325.6 441.5,324.3 444.9,324.3 448.2,321.8 450.6,322.4 453,324.5 456.7,325.9 459.6,325.6 462.5,324 464.4,323.3" fill="none" stroke="#ff0000" stroke-opacity="0.8" stroke-width="1.0" stroke-linejoin="round" stroke-linecap="round"/>
<g fill="none" stroke="#ff0000" stroke-opacity="0.74" stroke-width="1.0" stroke-linecap="butt"><path d="M557 416.4L568 416.4"/><path d="M568 416.4L570.1 400.88"/><path d="M570.1 400.88L572.3 416.4"/><path d="M572.3 416.4L731.7 416.4"/><path d="M731.7 416.4L733.5 401.55"/><path d="M733.5 401.55L735.3 416.4"/><path d="M735.3 416.4L742 416.4"/><path d="M742 416.4L743.6 401.55"/><path d="M743.6 401.55L745 416.4"/><path d="M745 416.4L749.3 416.4"/><path d="M749.3 416.4L750.5 401.55"/><path d="M750.5 401.55L752.4 416.4"/><path d="M752.4 416.4L754.2 401.55"/><path d="M754.2 401.55L756 416.4"/><path d="M756 416.4L784.6 416.4"/><path d="M784.6 416.4L786.4 401.55"/><path d="M786.4 401.55L787.6 416.4"/><path d="M787.6 416.4L789.4 401.55"/><path d="M789.4 401.55L791 416.4"/><path d="M791 416.4L795.5 416.4"/><path d="M795.5 416.4L797.4 401.55"/><path d="M797.4 401.55L799.2 416.4"/><path d="M799.2 416.4L801.7 402.9"/><path d="M801.7 402.9L803.3 402.9"/><path d="M803.3 402.9L804.7 416.4"/><path d="M804.7 416.4L831.4 416.4"/><path d="M831.4 416.4L832.6 401.55"/><path d="M832.6 401.55L834.1 416.4"/><path d="M834.1 416.4L835.7 401.55"/><path d="M835.7 401.55L837.5 416.4"/><path d="M837.5 416.4L928.7 416.4"/><path d="M928.7 416.4L930.5 401.55"/><path d="M930.5 401.55L932.3 416.4"/><path d="M932.3 416.4L933.6 416.4"/><path d="M933.6 416.4L935.1 401.55"/><path d="M935.1 401.55L936.9 416.4"/><path d="M936.9 416.4L964 416.4"/></g>
<g fill="none" stroke="#0000ff" stroke-opacity="0.74" stroke-width="1.0" stroke-linecap="butt"><path d="M557.6 362.4L559.3 389.4"/><path d="M559.3 389.4L560.8 362.4"/><path d="M560.8 362.4L562.2 375.9"/><path d="M562.2 375.9L563.9 377.92"/><path d="M563.9 377.92L567.7 416.4"/><path d="M567.7 416.4L568.7 416.4"/><path d="M568.7 416.4L570.6 359.7"/><path d="M570.6 359.7L573.7 389.4"/><path d="M573.7 389.4L574.9 389.4"/><path d="M574.9 389.4L576.6 375.9"/><path d="M576.6 375.9L577.8 391.42"/><path d="M577.8 391.42L579.2 375.9"/><path d="M579.2 375.9L580.9 375.9"/><path d="M580.9 375.9L583.8 402.9"/><path d="M583.8 402.9L587 375.9"/><path d="M587 375.9L587.9 389.4"/><path d="M587.9 389.4L589.9 362.4"/><path d="M589.9 362.4L591.7 375.9"/><path d="M591.7 375.9L599 375.9"/><path d="M599 375.9L600.5 335.4"/><path d="M600.5 335.4L602.3 402.9"/><path d="M602.3 402.9L604 389.4"/><path d="M604 389.4L605.8 402.9"/><path d="M605.8 402.9L608.1 402.9"/><path d="M608.1 402.9L608.9 416.4"/><path d="M608.9 416.4L610.4 402.9"/><path d="M610.4 402.9L614.2 402.9"/><path d="M614.2 402.9L616 375.9"/><path d="M616 375.9L618.7 402.9"/><path d="M618.7 402.9L621 389.4"/><path d="M621 389.4L622.5 389.4"/><path d="M622.5 389.4L624 402.9"/><path d="M624 402.9L625.6 375.9"/><path d="M625.6 375.9L627.5 416.4"/><path d="M627.5 416.4L629.4 389.4"/><path d="M629.4 389.4L630.4 402.9"/><path d="M630.4 402.9L631.8 362.4"/><path d="M631.8 362.4L633 375.9"/><path d="M633 375.9L634.2 389.4"/><path d="M634.2 389.4L636.1 416.4"/><path d="M636.1 416.4L637.6 402.9"/><path d="M637.6 402.9L644.4 402.9"/><path d="M644.4 402.9L645.9 416.4"/><path d="M645.9 416.4L655 416.4"/><path d="M655 416.4L657.3 401.55"/><path d="M657.3 401.55L658.8 416.4"/><path d="M658.8 416.4L691.5 416.4"/><path d="M691.5 416.4L692.2 401.55"/><path d="M692.2 401.55L694.5 416.4"/><path d="M694.5 416.4L696.8 416.4"/><path d="M696.8 416.4L699 402.9"/><path d="M699 402.9L701.3 402.9"/><path d="M701.3 402.9L702.8 416.4"/><path d="M702.8 416.4L704.4 375.9"/><path d="M704.4 375.9L705.2 375.9"/><path d="M705.2 375.9L706.2 416.4"/><path d="M706.2 416.4L708.4 362.4"/><path d="M708.4 362.4L709.6 416.4"/><path d="M709.6 416.4L711.1 402.9"/><path d="M711.1 402.9L712.3 402.9"/><path d="M712.3 402.9L713.7 389.4"/><path d="M713.7 389.4L717.7 389.4"/><path d="M717.7 389.4L719.6 375.9"/><path d="M719.6 375.9L721.4 375.9"/><path d="M721.4 375.9L723.8 402.9"/><path d="M723.8 402.9L725.6 375.9"/><path d="M725.6 375.9L726.8 402.9"/><path d="M726.8 402.9L729.3 375.9"/><path d="M729.3 375.9L731.1 402.9"/><path d="M731.1 402.9L733.5 374.55"/><path d="M733.5 374.55L737.2 402.9"/><path d="M737.2 402.9L738.4 402.9"/><path d="M738.4 402.9L740 362.4"/><path d="M740 362.4L742 402.9"/><path d="M742 402.9L743.6 348.9"/><path d="M743.6 348.9L748.1 402.9"/><path d="M748.1 402.9L749.6 335.4"/><path d="M749.6 335.4L750.7 281.4"/><path d="M750.7 281.4L752 348.9"/><path d="M752 348.9L753 402.9"/><path d="M753 402.9L754.9 348.9"/><path d="M754.9 348.9L757.3 382.65"/><path d="M757.3 382.65L760.3 402.9"/><path d="M760.3 402.9L764 362.4"/><path d="M764 362.4L766.4 375.9"/><path d="M766.4 375.9L767.6 375.9"/><path d="M767.6 375.9L769.2 348.9"/><path d="M769.2 348.9L770.6 402.9"/><path d="M770.6 402.9L771.8 362.4"/><path d="M771.8 362.4L773.3 402.9"/><path d="M773.3 402.9L774.9 362.4"/><path d="M774.9 362.4L776.7 389.4"/><path d="M776.7 389.4L777.7 389.4"/><path d="M777.7 389.4L779.1 348.9"/><path d="M779.1 348.9L782.2 402.9"/><path d="M782.2 402.9L785.8 362.4"/><path d="M785.8 362.4L787.6 348.9"/><path d="M787.6 348.9L788.8 348.9"/><path d="M788.8 348.9L791.3 389.4"/><path d="M791.3 389.4L793.4 362.4"/><path d="M793.4 362.4L794.9 375.9"/><path d="M794.9 375.9L796.5 375.9"/><path d="M796.5 375.9L797.3 294.9"/><path d="M797.3 294.9L798.6 362.4"/><path d="M798.6 362.4L800.5 402.9"/><path d="M800.5 402.9L803.5 360.38"/><path d="M803.5 360.38L804.7 375.9"/><path d="M804.7 375.9L806.5 360.38"/><path d="M806.5 360.38L807.7 375.9"/><path d="M807.7 375.9L810.2 360.38"/><path d="M810.2 360.38L812 375.9"/><path d="M812 375.9L814.4 348.9"/><path d="M814.4 348.9L815.6 402.9"/><path d="M815.6 402.9L818.7 362.4"/><path d="M818.7 362.4L820.5 402.9"/><path d="M820.5 402.9L821.7 375.9"/><path d="M821.7 375.9L824.1 402.9"/><path d="M824.1 402.9L826 389.4"/><path d="M826 389.4L827.2 402.9"/><path d="M827.2 402.9L829 375.9"/><path d="M829 375.9L830.4 402.9"/><path d="M830.4 402.9L831.6 335.4"/><path d="M831.6 335.4L833.6 342.15"/><path d="M833.6 342.15L835 335.4"/><path d="M835 335.4L838.4 375.9"/><path d="M838.4 375.9L840.1 348.9"/><path d="M840.1 348.9L841.5 389.4"/><path d="M841.5 389.4L843 402.9"/><path d="M843 402.9L848.3 402.9"/><path d="M848.3 402.9L849.9 389.4"/><path d="M849.9 389.4L851.4 389.4"/><path d="M851.4 389.4L852.9 375.9"/><path d="M852.9 375.9L854.4 375.9"/><path d="M854.4 375.9L855.9 402.9"/><path d="M855.9 402.9L865 402.9"/><path d="M865 402.9L866.6 375.9"/><path d="M866.6 375.9L868.1 402.9"/><path d="M868.1 402.9L869.6 389.4"/><path d="M869.6 389.4L871.1 375.9"/><path d="M871.1 375.9L872.6 402.9"/><path d="M872.6 402.9L874.1 416.4"/><path d="M874.1 416.4L875.7 402.9"/><path d="M875.7 402.9L877.2 402.9"/><path d="M877.2 402.9L878.7 416.4"/><path d="M878.7 416.4L879.8 389.4"/><path d="M879.8 389.4L881.3 402.9"/><path d="M881.3 402.9L884 388.05"/><path d="M884 388.05L885.5 402.9"/><path d="M885.5 402.9L887.5 402.9"/><path d="M887.5 402.9L889.3 389.4"/><path d="M889.3 389.4L890.8 402.9"/><path d="M890.8 402.9L892.4 402.9"/><path d="M892.4 402.9L893.9 416.4"/><path d="M893.9 416.4L897.7 416.4"/><path d="M897.7 416.4L899.6 401.55"/><path d="M899.6 401.55L901.4 416.4"/><path d="M901.4 416.4L905.9 416.4"/><path d="M905.9 416.4L908.1 401.55"/><path d="M908.1 401.55L909.9 416.4"/><path d="M909.9 416.4L916.5 416.4"/><path d="M916.5 416.4L917.8 389.4"/><path d="M917.8 389.4L919 394.8"/><path d="M919 394.8L920.5 362.4"/><path d="M920.5 362.4L922.3 362.4"/><path d="M922.3 362.4L924.1 389.4"/><path d="M924.1 389.4L926.3 389.4"/><path d="M926.3 389.4L928.2 402.9"/><path d="M928.2 402.9L930.5 362.4"/><path d="M930.5 362.4L933.6 397.5"/><path d="M933.6 397.5L935.1 367.8"/><path d="M935.1 367.8L936.5 389.4"/><path d="M936.5 389.4L937.8 362.4"/><path d="M937.8 362.4L939.3 321.9"/><path d="M939.3 321.9L940.9 362.4"/><path d="M940.9 362.4L942 389.4"/><path d="M942 389.4L943.8 389.4"/><path d="M943.8 389.4L946 416.4"/><path d="M946 416.4L947.8 389.4"/><path d="M947.8 389.4L949.1 375.9"/><path d="M949.1 375.9L950.6 402.9"/><path d="M950.6 402.9L952.4 389.4"/><path d="M952.4 389.4L954.2 389.4"/><path d="M954.2 389.4L956 402.9"/><path d="M956 402.9L960.6 402.9"/><path d="M960.6 402.9L962.4 389.4"/><path d="M962.4 389.4L964.2 416.4"/></g>
<polyline points="59.2,615 103,615 104.2,601.5 124.4,601.5 125.9,588 465.5,588" fill="none" stroke="#ff0000" stroke-opacity="0.74" stroke-width="1.0" stroke-linejoin="round" stroke-linecap="round"/>
<path d="M566.7 614.6H568.9M607.8 614.6H610M626.2 614.6H628.4M634.9 614.6H637.1M644.8 614.6H697.9M701.3 614.6H703.6M705.9 614.6H710.9M872.9 614.6H875.1M876.9 614.6H879.1M886.9 614.6H889.1M893.1 614.6H917.9M943.6 614.6H945.8M946.7 614.6H948.9M962.2 614.6H964.4M703.1 606.5H709.5M717.1 606.5H736.2M739.9 606.5H744.9M752.3 606.5H758.9M765.1 606.5H768.9M787.9 606.5H790.1M797.9 606.5H800.1M802.1 606.5H825.5M827.7 606.5H832.8M836.1 606.5H852.4M862.8 606.5H865M865.5 606.5H867.7M869.1 606.5H877.4M879.1 606.5H893.5M897.9 606.5H900.1M906.9 606.5H909.1M917.4 606.5H922.9M715.8 598H718M767.9 598H770.1M800.7 598H802.9M813.5 598H815.7M852.1 598H863.7M925.1 598H930.6M934.2 598H962.8M922.5 589.75H926.1M930.1 589.75H934.8M588.5 556H592.6M600.9 556H603.1M627.7 556H629.9M556.9 547.5H561.7M570 547.5H588.7M592.3 547.5H594.5M598 547.5H600.2M606.3 547.5H608.5M610.1 547.5H612.4M614.9 547.5H617.1M628.9 547.5H631.1M636.3 547.5H638.5M564.3 539H567.7M568.5 539H570.7M593.9 539H599.1M599.6 539H601.8M638.1 539H645.4M656.1 539H658.3M690.7 539H692.9M697.2 539H701.9M561.4 530.5H564.7M602.3 522H607.1M616.4 522H626.6M632.1 522H634.3M776.5 522H778.7M612.2 513.5H615.7M630.5 513.5H632.7M633.5 513.5H635.7M709.9 513.5H712.1M775.2 505H777.4M798.5 496.5H800.7M711.6 488.25H714.9M759.4 488.25H761.6M714.1 480H716.4M727.1 480H728.9M735.1 480H740.9M744.1 480H752.9M758.1 480H765.9M769.1 480H775.9M778.1 480H798.9M809.1 480H811.9M825.1 480H828.4M832.1 480H836.9M864.1 480H869.9" stroke="#ff0000" stroke-width="2.3" fill="none"/>
</svg></body></html>
